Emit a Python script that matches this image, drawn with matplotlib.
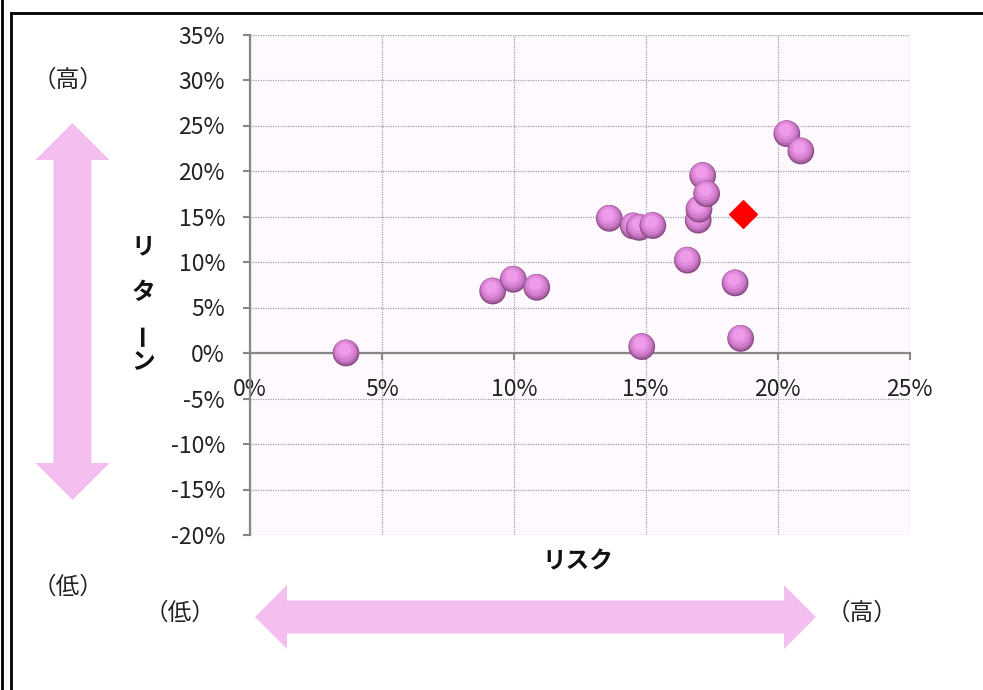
import matplotlib
matplotlib.use("Agg")
import matplotlib.pyplot as plt
from matplotlib.patches import Polygon
from matplotlib.lines import Line2D
from matplotlib.path import Path
from matplotlib.transforms import offset_copy
from matplotlib.ticker import FuncFormatter

plt.rcParams['font.family'] = ['Noto Sans CJK JP', 'DejaVu Sans']

# ---- data (percent) ----
risk = [3.64, 9.20, 9.98, 10.87, 13.62, 14.53, 14.76, 15.27, 16.58, 16.99,
        17.02, 17.16, 17.31, 18.39, 14.85, 18.60, 20.35, 20.88]
ret = [0.0, 6.81, 8.10, 7.22, 14.80, 13.96, 13.80, 14.00, 10.20, 14.60,
       15.80, 19.50, 17.50, 7.70, 0.70, 1.60, 24.10, 22.20]
bench_risk = [18.68]
bench_ret = [15.30]

x_ticks = [0, 5, 10, 15, 20, 25]
y_ticks = [-20, -15, -10, -5, 0, 5, 10, 15, 20, 25, 30, 35]

W, H = 983, 690
fig = plt.figure(figsize=(W / 100, H / 100), dpi=100)


def fx(px):
    return px / W


def fy(py):
    return 1 - py / H


# axes placement (pixels)
L, R, T, B = 250, 909.5, 34.5, 535
ax = fig.add_axes([fx(L), fy(B), (R - L) / W, (B - T) / H])
ax.set_facecolor('#FEF9FE')
ax.set_xlim(x_ticks[0], x_ticks[-1])
ax.set_ylim(y_ticks[0], y_ticks[-1])
ax.set_xticks(x_ticks)
ax.set_yticks(y_ticks)
pct = FuncFormatter(lambda v, p: f"{int(round(v))}%")
ax.xaxis.set_major_formatter(pct)
ax.yaxis.set_major_formatter(pct)

ax.grid(True, color='#A0A0A0', linestyle=(0, (1, 1)), linewidth=0.9)
ax.set_axisbelow(True)
for s in ['top', 'right']:
    ax.spines[s].set_visible(False)
ax.spines['bottom'].set_position(('data', 0))
ax.spines['left'].set_position(('data', 0))
for s in ['bottom', 'left']:
    ax.spines[s].set_color('#878787')
    ax.spines[s].set_linewidth(1.6)
    ax.spines[s].set_zorder(2.5)
ax.tick_params(axis='x', direction='out', length=5, width=1.5, color='#878787',
               labelsize=16.5, pad=13, labelcolor='#222222')
ax.tick_params(axis='y', direction='out', length=5, width=1.5, color='#878787',
               labelsize=16.5, pad=13, labelcolor='#222222')

# spheres
layers = [
    (1.00, '#8A4C86', 0.0, 0.0),
    (0.88, '#B266AC', -0.2, 0.6),
    (0.70, '#CF7CCA', -0.5, 1.3),
    (0.46, '#E28ADD', -0.8, 2.0),
    (0.22, '#EE9CEA', -1.0, 2.5),
]
base_s = 370
for xi, yi in zip(risk, ret):
    for k, (sc, col, dx, dy) in enumerate(layers):
        tr = offset_copy(ax.transData, fig=fig, x=dx, y=dy, units='points')
        ax.scatter([xi], [yi], s=base_s * sc, color=col, edgecolors='none',
                   transform=tr, zorder=3, clip_on=False)

# benchmark diamond
diamond = Path([(0, 1), (1, 0), (0, -1), (-1, 0), (0, 1)])
ax.plot(bench_risk, bench_ret, linestyle='none', marker=diamond,
        markersize=20, color='#FF0000', zorder=4)

# axis titles
fig.text(fx(578), fy(561), 'リスク', ha='center', va='center',
         fontsize=17, fontweight='bold', color='#111111')
for ch, yy, rot in [('リ', 246, 0), ('タ', 292, 0), ('ー', 334, 90), ('ン', 362, 0)]:
    fig.text(fx(143), fy(yy), ch, ha='center', va='center', rotation=rot,
             fontsize=17, fontweight='bold', color='#111111')

# hi / lo labels
for txt, px, py in [('（高）', 68, 80), ('（低）', 68, 587),
                    ('（低）', 180, 613), ('（高）', 862, 613)]:
    fig.text(fx(px), fy(py), txt, ha='center', va='center', fontsize=17,
             color='#222222')

arrow_col = '#F4BEEE'
# vertical double arrow
cx, t1, t2, hl, hw, sw = 72.5, 123, 500, 37, 37, 19
vpts = [(cx, t1), (cx + hw, t1 + hl), (cx + sw, t1 + hl), (cx + sw, t2 - hl),
        (cx + hw, t2 - hl), (cx, t2), (cx - hw, t2 - hl), (cx - sw, t2 - hl),
        (cx - sw, t1 + hl), (cx - hw, t1 + hl)]
fig.add_artist(Polygon([(fx(a), fy(b)) for a, b in vpts], closed=True,
                       facecolor=arrow_col, edgecolor='none',
                       transform=fig.transFigure))
# horizontal double arrow
cy, l1, l2, hl, hw, sw = 617, 255, 816, 32, 32, 16.5
hpts = [(l1, cy), (l1 + hl, cy - hw), (l1 + hl, cy - sw), (l2 - hl, cy - sw),
        (l2 - hl, cy - hw), (l2, cy), (l2 - hl, cy + hw), (l2 - hl, cy + sw),
        (l1 + hl, cy + sw), (l1 + hl, cy + hw)]
fig.add_artist(Polygon([(fx(a), fy(b)) for a, b in hpts], closed=True,
                       facecolor=arrow_col, edgecolor='none',
                       transform=fig.transFigure))

# frame lines
for xs, ys in [([1.5, 1.5], [0, H]), ([10.5, 10.5], [12.5, H]),
               ([10.5, W], [12.5, 12.5])]:
    fig.add_artist(Line2D([fx(v) for v in xs], [fy(v) for v in ys],
                          color='black', linewidth=2.0,
                          transform=fig.transFigure))

fig.savefig('out.png', dpi=100)
